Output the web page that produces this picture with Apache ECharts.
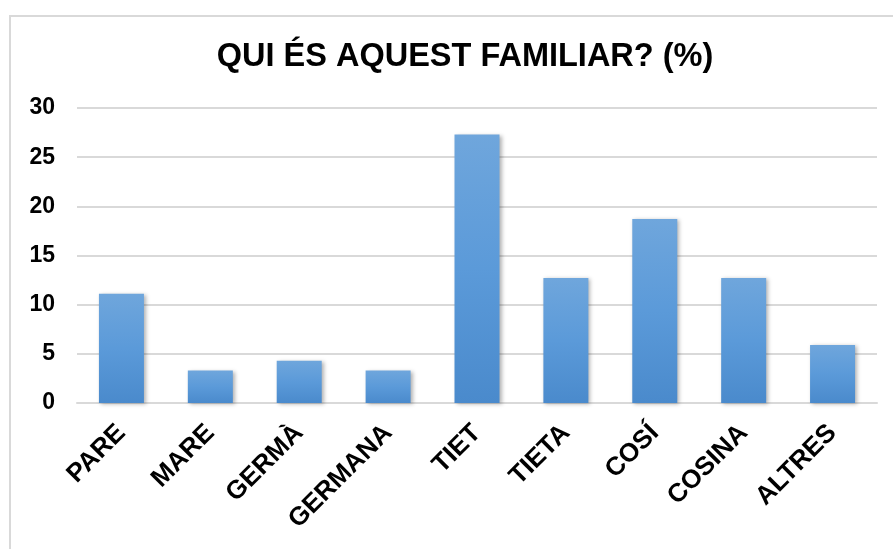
<!DOCTYPE html>
<html>
<head>
<meta charset="utf-8">
<script src="https://cdn.jsdelivr.net/npm/echarts@6/dist/echarts.min.js"></script>
<style>
  html, body { margin: 0; padding: 0; background: #fff; }
  .frame { position: absolute; left: 9px; top: 15px; width: 900px; height: 560px; border: 2px solid #d9d9d9; box-sizing: border-box; }
  .chart { position: absolute; left: 0; top: 0; width: 893px; height: 549px; }
</style>
</head>
<body>
<div class="frame"></div>
<div class="chart" id="chart"></div>
<script>
var categories = ['PARE', 'MARE', 'GERMÀ', 'GERMANA', 'TIET', 'TIETA', 'COSÍ', 'COSINA', 'ALTRES']
var values = [11.1, 3.3, 4.3, 3.3, 27.3, 12.7, 18.7, 12.7, 5.9]
var yTicks = [0, 5, 10, 15, 20, 25, 30]

var chart = echarts.init(document.getElementById('chart'))
chart.setOption({
  animation: false,
  textStyle: { fontFamily: 'Liberation Sans, Arial, sans-serif' },
  title: {
    text: 'QUI ÉS AQUEST FAMILIAR? (%)',
    left: 460,
    textAlign: 'center',
    top: 36,
    textStyle: {
      color: '#000',
      fontSize: 32.5,
      fontWeight: 'bold',
      fontFamily: 'Liberation Sans, Arial, sans-serif'
    }
  },
  grid: {
    left: 77,
    right: 16,
    top: 108,
    bottom: 146
  },
  xAxis: {
    type: 'category',
    data: categories,
    axisLine: { lineStyle: { color: '#d9d9d9', width: 2 } },
    axisTick: { show: false },
    axisLabel: {
      rotate: 45,
      margin: 26,
      color: '#000',
      fontSize: 26,
      fontWeight: 'bold'
    }
  },
  yAxis: {
    type: 'value',
    min: yTicks[0],
    max: yTicks[yTicks.length - 1],
    interval: 5,
    axisLine: { show: false },
    axisTick: { show: false },
    splitLine: { lineStyle: { color: '#d9d9d9', width: 2 } },
    axisLabel: {
      margin: 22,
      color: '#000',
      fontSize: 23,
      fontWeight: 'bold'
    }
  },
  series: [{
    type: 'bar',
    data: values,
    barWidth: 45,
    itemStyle: {
      color: new echarts.graphic.LinearGradient(0, 0, 0, 1, [
        { offset: 0, color: '#6fa6dc' },
        { offset: 0.5, color: '#5b9ad9' },
        { offset: 1, color: '#4a8acc' }
      ]),
      shadowColor: 'rgba(0, 0, 0, 0.3)',
      shadowBlur: 4,
      shadowOffsetX: 2,
      shadowOffsetY: 1
    }
  }]
})
window.addEventListener('resize', chart.resize)
</script>
</body>
</html>
